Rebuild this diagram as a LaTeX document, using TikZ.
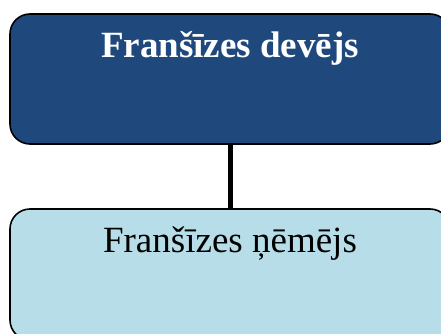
\documentclass[tikz,border=0pt]{standalone}
\usepackage{fontspec}
\setmainfont{Liberation Serif}
\definecolor{giverblue}{HTML}{1F497D}
\definecolor{takercyan}{HTML}{B7DEE8}
\begin{document}
\begin{tikzpicture}[x=1pt,y=-1pt,
  orgbox/.style={draw=black, line width=1.6pt, rounded corners=20pt,
    minimum width=440pt, inner sep=0pt},
  caption/.style={anchor=base, font=\fontsize{37}{39}\selectfont},
  link/.style={line width=5pt, black}]
  \useasboundingbox (0,0) rectangle (441,334);
  \clip (0,0) rectangle (441,334);
  % franchisor box
  \node[orgbox, fill=giverblue, minimum height=130pt] (giver) at (230,79) {};
  \node[caption, text=white, font=\fontsize{37}{39}\selectfont\bfseries] (gtext) at (230,58) {Franšīzes devējs};
  % franchisee box
  \node[orgbox, fill=takercyan, minimum height=131pt] (taker) at (230,274.5) {};
  \node[caption, text=black] (ttext) at (230,252) {Franšīzes ņēmējs};
  % connector
  \draw[link] (giver.south) -- (taker.north);
\end{tikzpicture}
\end{document}
